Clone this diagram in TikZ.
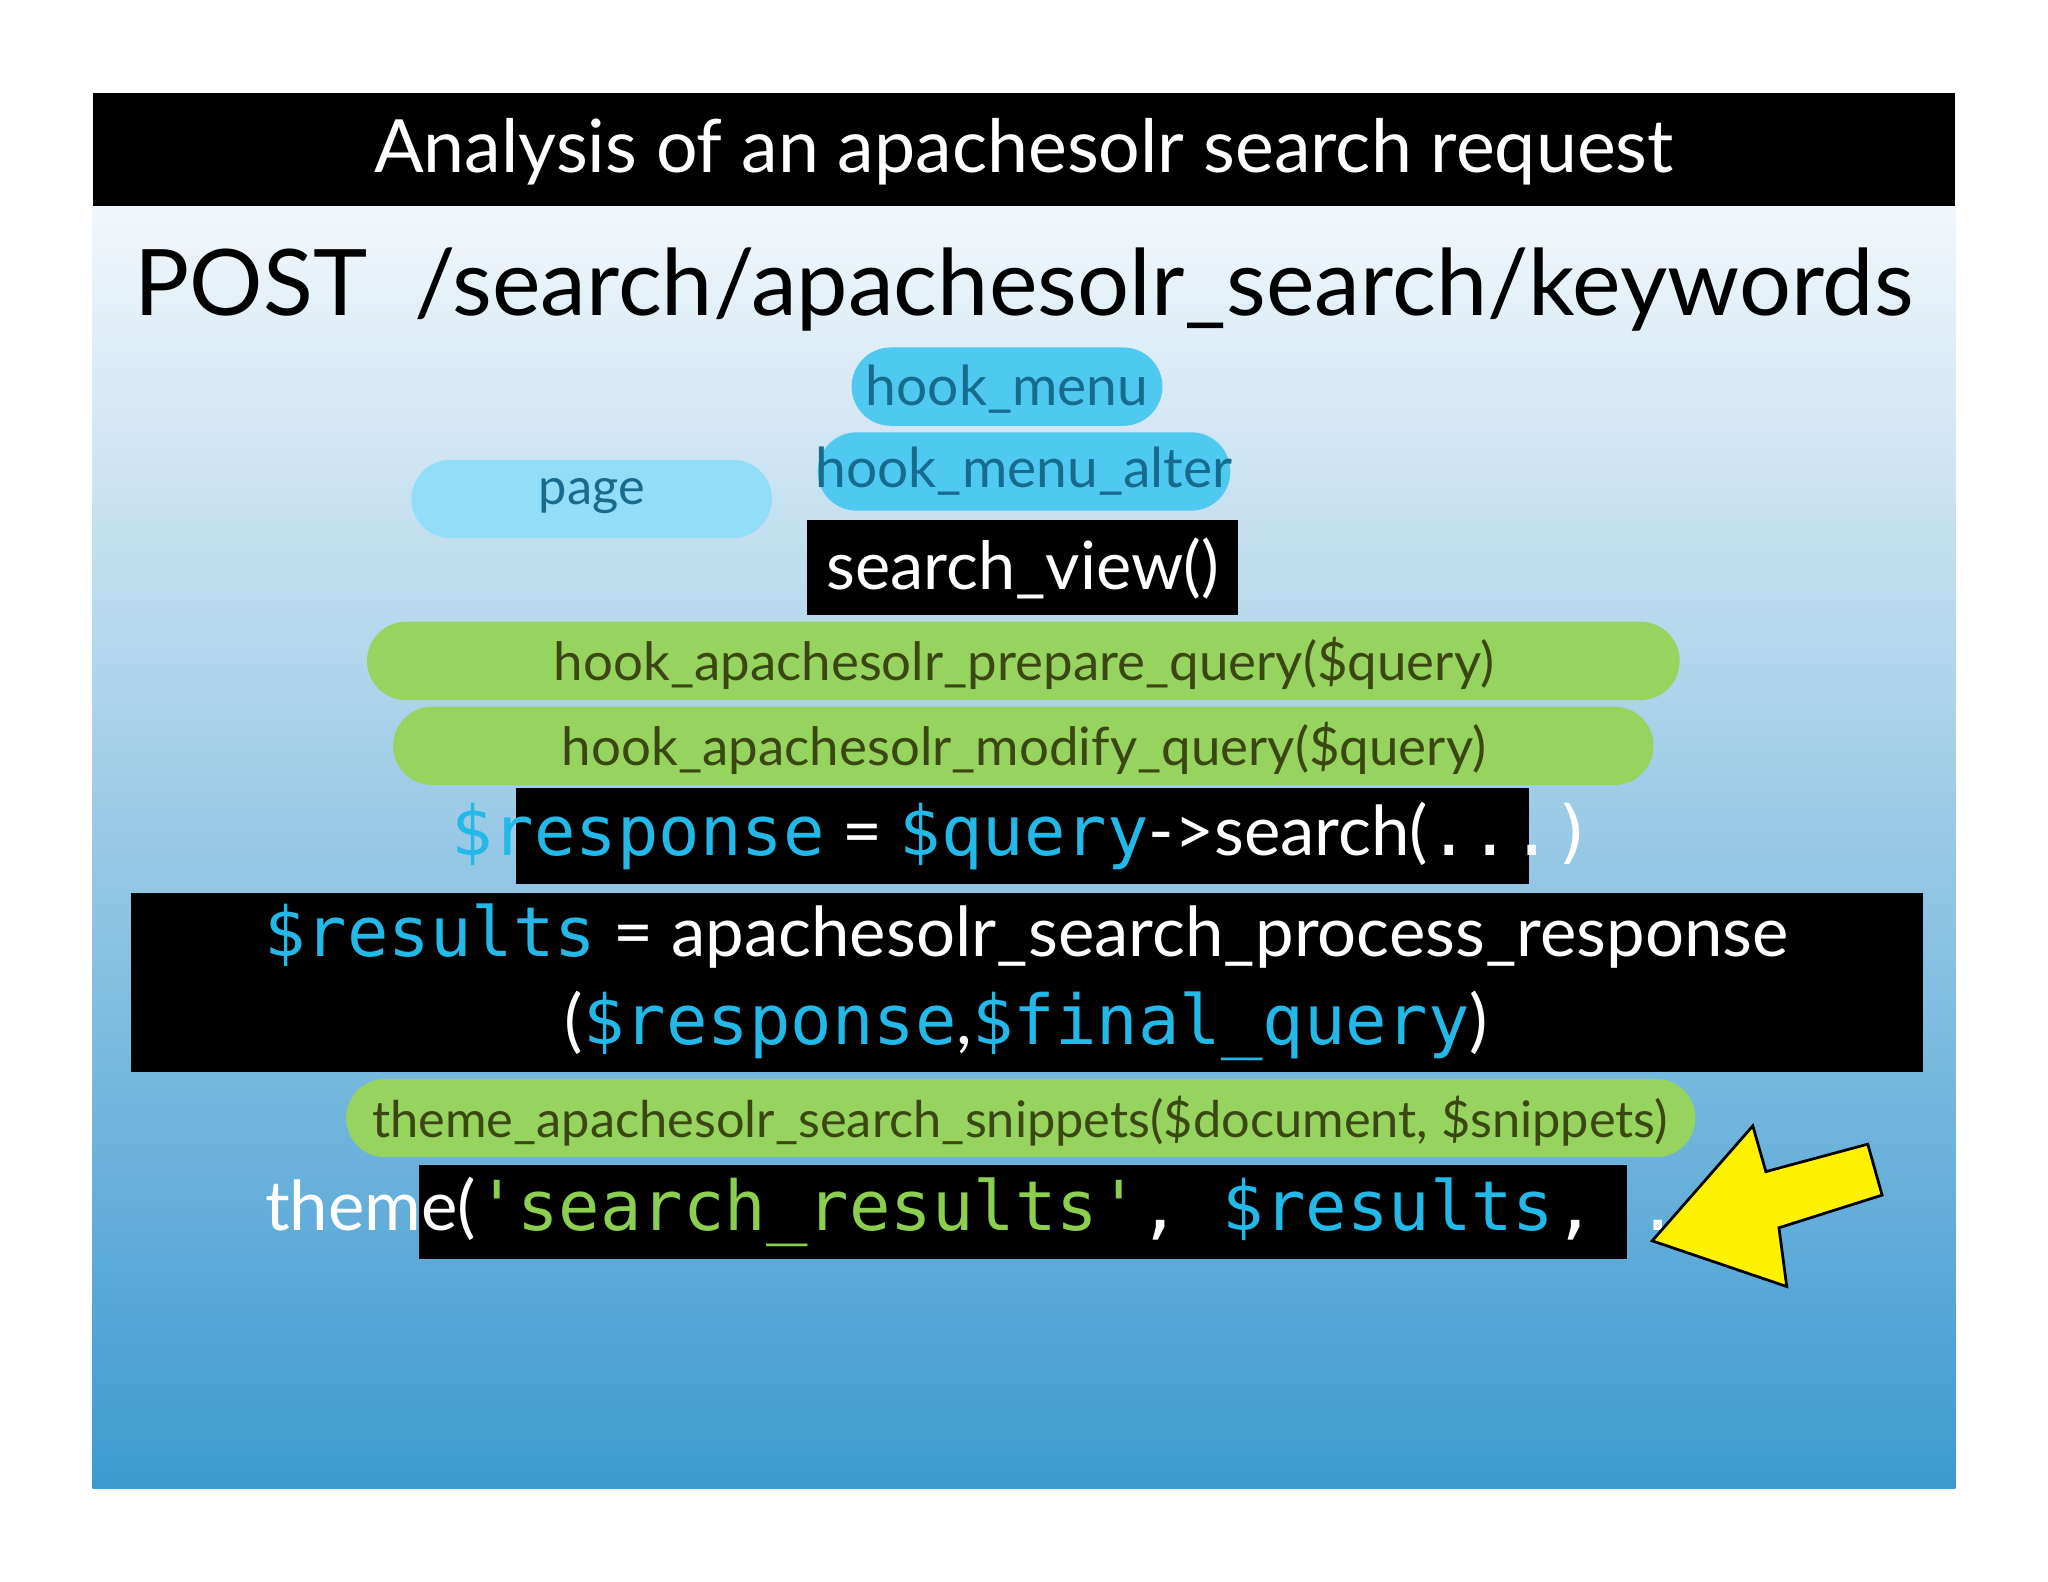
\documentclass[tikz,border=0pt]{standalone}
\usepackage{fontspec}
\setmainfont{Lato}
\setmonofont{DejaVu Sans Mono}
\definecolor{pillblue}{HTML}{4FC9F0}
\definecolor{pilllight}{HTML}{92DDF8}
\definecolor{pilltext}{HTML}{176C8E}
\definecolor{pillgreen}{HTML}{96D35F}
\definecolor{greentext}{HTML}{3A4712}
\definecolor{codecyan}{HTML}{22B8E8}
\definecolor{codegreen}{HTML}{8CCF4F}
\definecolor{skytop}{HTML}{F2F7FB}
\definecolor{skybot}{HTML}{3C9AD0}
\begin{document}
\begin{tikzpicture}[x=0.01cm,y=-0.01cm,
  pill/.style={rounded corners=30*0.01cm, inner sep=0pt},
  blk/.style={fill=black, inner sep=0pt}]
\useasboundingbox (0,0) rectangle (1568,1211);
\fill[white] (0,0) rectangle (1568,1211);
\shade[top color=skytop, bottom color=skybot] (71,158) rectangle (1497,1140);
\fill[black] (71,71) rectangle (1497,158);
\node[text=white, font=\fontsize{16}{18}\selectfont] (title) at (784,116) {Analysis of an apachesolr search request};
\node[font=\fontsize{20}{22}\selectfont] (post) at (784,222) {POST\ \ /search/apachesolr\_search/keywords};
% pills
\fill[pillblue, pill] (652,266) rectangle (890,326);
\node[text=pilltext, font=\fontsize{12}{14}\selectfont] (hm) at (771,298) {hook\_menu};
\fill[pillblue, pill] (626,331) rectangle (942,391);
\node[text=pilltext, font=\fontsize{12}{14}\selectfont] (hma) at (784,361) {hook\_menu\_alter};
\fill[pilllight, pill] (315,352) rectangle (591,412);
\node[text=pilltext, font=\fontsize{11}{13}\selectfont] (page) at (453,380) {page};
\fill[black] (618,398) rectangle (948,471);
\node[text=white, font=\fontsize{14.5}{16}\selectfont] (sv) at (783,435) {search\_view()};
\fill[pillgreen, pill] (281,476) rectangle (1286,536);
\node[text=greentext, font=\fontsize{11.5}{13}\selectfont] (pq) at (784,508) {hook\_apachesolr\_prepare\_query(\$query)};
\fill[pillgreen, pill] (301,541) rectangle (1266,601);
\node[text=greentext, font=\fontsize{11.5}{13}\selectfont] (mq) at (784,573) {hook\_apachesolr\_modify\_query(\$query)};
\fill[black] (395,603) rectangle (1171,677);
\node[text=white, font=\fontsize{15}{17}\selectfont] (resp) at (783,640) {\textcolor{codecyan}{\ttfamily\$response} = \textcolor{codecyan}{\ttfamily\$query}->search(\ttfamily...)};
\fill[black] (100,684) rectangle (1472,821);
\node[text=white, font=\fontsize{15}{19}\selectfont, align=center] (res) at (786,752) {\textcolor{codecyan}{\ttfamily\$results} = apachesolr\_search\_process\_response\\(\textcolor{codecyan}{\ttfamily\$response},\textcolor{codecyan}{\ttfamily\$final\_query})};
\fill[pillgreen, pill] (265,826) rectangle (1298,886);
\node[text=greentext, font=\fontsize{11}{13}\selectfont] (snip) at (781,858) {theme\_apachesolr\_search\_snippets(\$document, \$snippets)};
\fill[black] (321,892) rectangle (1246,964);
\node[text=white, font=\fontsize{15}{17}\selectfont] (th) at (783,928) {theme(\textcolor{codegreen}{\ttfamily'search\_results'}{\ttfamily, }\textcolor{codecyan}{\ttfamily\$results}{\ttfamily, ...})};
% yellow arrow
\filldraw[fill=yellow, draw=black, line width=0.6pt] (1265,950) -- (1342,862) -- (1352,897) -- (1430,876) -- (1441,915) -- (1362,940) -- (1368,985) -- cycle;
\end{tikzpicture}
\end{document}
